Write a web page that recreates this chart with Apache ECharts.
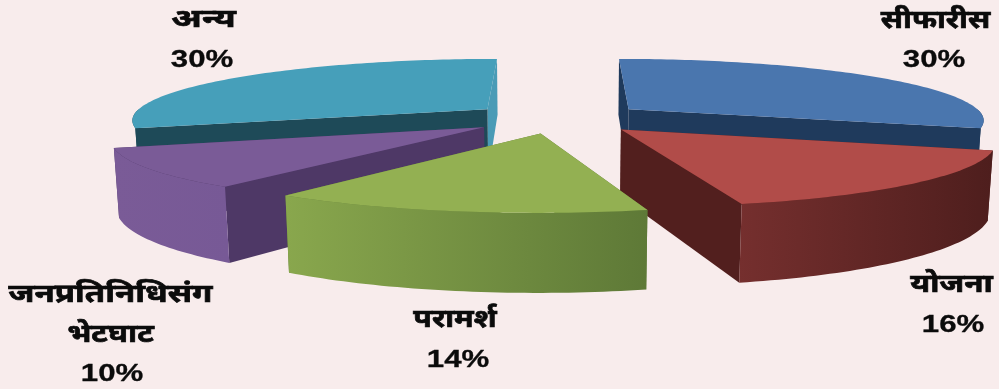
<!DOCTYPE html>
<html>
<head>
<meta charset="utf-8">
<style>html,body{margin:0;padding:0;background:#f8ecec}#chart{width:999px;height:389px}</style>
<script src="https://cdn.jsdelivr.net/npm/echarts@6/dist/echarts.min.js"></script>
</head>
<body>
<div id="chart"></div>
<script>
// Share of each source, clockwise from twelve o'clock
const categories = ['सीफारीस', 'योजना', 'परामर्श', 'जनप्रतिनिधिसंग\nभेटघाट', 'अन्य'];
const shares = [30, 16, 14, 10, 30];

// Face colours per slice
const topColors = ['#4a76ae', '#b14c49', '#93b052', '#7a5b97', '#469fba'];
const radialColors = [['#1f3a5c', '#1f3a5c'], ['#521f1e', '#521f1e'], ['#5f7a38', '#5f7a38'], ['#4e3866', '#4e3866'], ['#1e4a58', '#4a9bb6']];
const wallColors = [['#1f3a5c', '#1f3a5c'], ['#752f2e', '#4e1e1d'], ['#89a74d', '#5e7937'], ['#7a5b97', '#775996'], ['#1e4a58', '#1e4a58']];
const paintRank = [1, 4, 5, 3, 2];

// Label placement: name centre x, name line y, percentage centre x and y
const labelAnchors = [[935.5, [23], 934, 60], [951.5, [287], 953, 325], [455, [322], 458, 360], [110.5, [297, 337], 112, 374], [203.5, [22], 202, 60]];
const nameStretch = [[1.16], [1.21], [1.16], [1.27, 1.19], [1.38]];

// Perspective of the tilted pie
const view = { cx: 558, cy: 118, sx: 357, sy: 61, lift: 66, persp: 0.16, drop: 0.011, explode: 0.25 };

function project(u, v, z) {
  const w = 1 - view.persp * v + view.drop * z;
  return [view.cx + view.sx * u / w, view.cy + (view.sy * v + view.lift * z) / w];
}

const total = shares.reduce((a, b) => a + b, 0);
const starts = [];
shares.reduce((acc, s, i) => { starts[i] = acc; return acc + s; }, 0);

function rim(a0, a1, ox, oy, z) {
  const pts = [];
  const n = Math.max(2, Math.ceil((a1 - a0) / 0.02));
  for (let i = 0; i <= n; i++) {
    const a = a0 + (a1 - a0) * i / n;
    pts.push(project(ox + Math.sin(a), oy - Math.cos(a), z));
  }
  return pts;
}

function renderSlice(params, api) {
  const i = params.dataIndex;
  const value = api.value(0);
  const a0 = starts[i] / total * 2 * Math.PI;
  const a1 = a0 + value / total * 2 * Math.PI;
  const mid = (a0 + a1) / 2;
  const ox = view.explode * Math.sin(mid);
  const oy = -view.explode * Math.cos(mid);
  const base = paintRank[i] * 10;
  const children = [];

  const radialFace = (a, color, z2) => {
    const ux = ox + Math.sin(a), uy = oy - Math.cos(a);
    return {
      type: 'polygon', z2, silent: true,
      shape: { points: [project(ox, oy, 0), project(ux, uy, 0), project(ux, uy, 1), project(ox, oy, 1)] },
      style: { fill: color }
    };
  };
  // The radial wall further from the viewer is painted first
  const firstIsFar = -Math.cos(a0) < -Math.cos(a1);
  children.push(radialFace(firstIsFar ? a0 : a1, radialColors[i][firstIsFar ? 0 : 1], base));
  children.push(radialFace(firstIsFar ? a1 : a0, radialColors[i][firstIsFar ? 1 : 0], base + 1));

  // Outer wall: only the stretch of rim that faces the viewer
  const wA = Math.max(a0, Math.PI / 2), wB = Math.min(a1, 1.5 * Math.PI);
  if (wB > wA) {
    const top = rim(wA, wB, ox, oy, 0);
    const bottom = rim(wA, wB, ox, oy, 1).reverse();
    children.push({
      type: 'polygon', z2: base + 2, silent: true,
      shape: { points: top.concat(bottom) },
      style: {
        fill: new echarts.graphic.LinearGradient(0, 0, 1, 0, [
          { offset: 0, color: wallColors[i][0] },
          { offset: 1, color: wallColors[i][1] }
        ])
      }
    });
  }

  // Top surface
  children.push({
    type: 'polygon', z2: base + 3, silent: true,
    shape: { points: [project(ox, oy, 0)].concat(rim(a0, a1, ox, oy, 0)) },
    style: { fill: topColors[i] }
  });

  // Name and percentage
  const anchor = labelAnchors[i];
  const names = categories[i].split('\n');
  const textStyle = (text, font, weight) => ({
    text, font, fill: '#0b0b0b', stroke: '#0b0b0b', lineWidth: weight, align: 'center', verticalAlign: 'middle'
  });
  names.forEach((line, k) => {
    children.push({
      type: 'text', x: anchor[0], y: anchor[1][k], z2: 100, silent: true, scaleX: nameStretch[i][k],
      style: textStyle(line, 'bold 26px "Noto Sans Devanagari","Noto Sans","Lohit Devanagari","FreeSerif","DejaVu Sans",sans-serif', 0.7)
    });
  });
  children.push({
    type: 'text', x: anchor[2], y: anchor[3], z2: 100, silent: true, scaleX: 1.3,
    style: textStyle(value + '%', 'bold 24px "Liberation Sans",Arial,sans-serif', 0.3)
  });
  return { type: 'group', children };
}

const chart = echarts.init(document.getElementById('chart'), null, { renderer: 'canvas' });
chart.setOption({
  backgroundColor: '#f8ecec',
  animation: false,
  series: [{
    type: 'custom',
    coordinateSystem: 'none',
    renderItem: renderSlice,
    data: shares.map((s, i) => ({ name: categories[i], value: [s] }))
  }]
});
</script>
</body>
</html>
